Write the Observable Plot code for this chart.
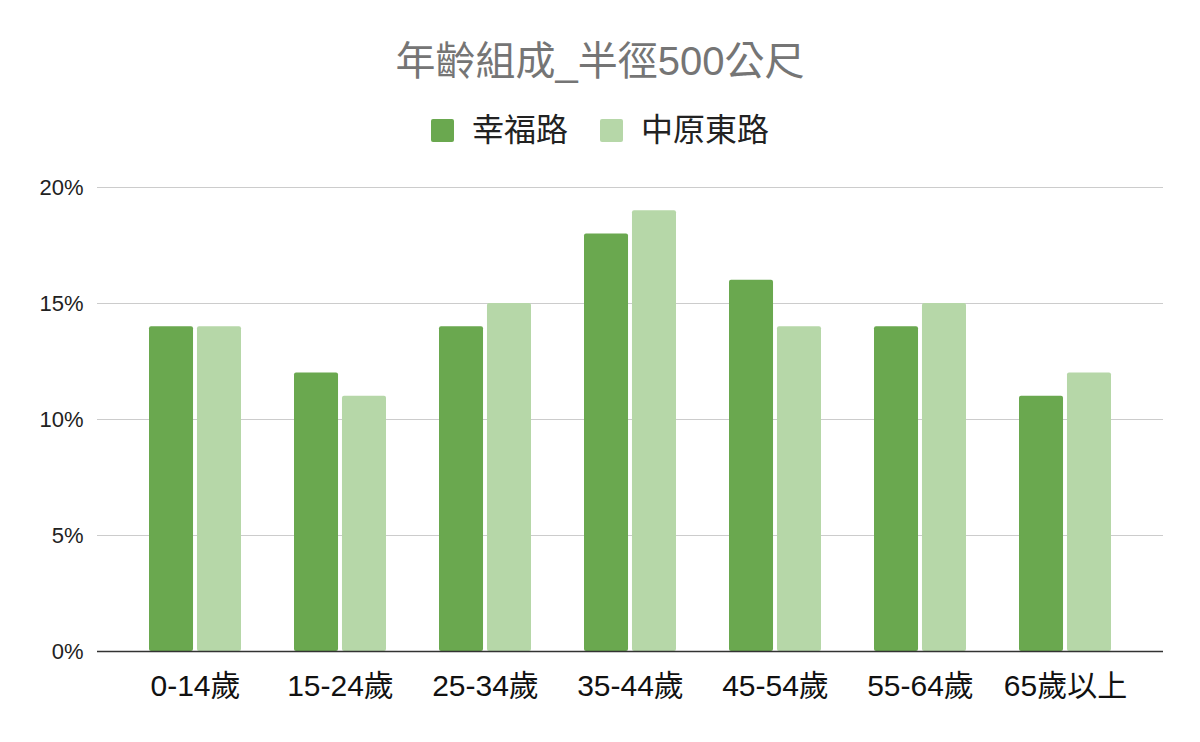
<!DOCTYPE html>
<html>
<head>
<meta charset="utf-8">
<script src="https://cdn.jsdelivr.net/npm/d3@7"></script>
<script src="https://cdn.jsdelivr.net/npm/@observablehq/plot@0.6"></script>
<style>
  body { margin: 0; background: #fff; font-family: "Liberation Sans", Arial, "Noto Sans CJK TC", sans-serif; }
  #wrap { width: 1200px; height: 742px; position: relative; overflow: hidden; }
  #title { position: absolute; top: 36px; left: 0; width: 1200px; text-align: center; font-size: 40px; color: #757575; line-height: 50px; }
  #legend { position: absolute; top: 110px; left: 0; width: 1200px; display: flex; justify-content: center; align-items: center; font-size: 32px; color: #222; line-height: 40px; }
  .item { display: flex; align-items: center; margin: 0 16px; }
  .sw { width: 23px; height: 23px; border-radius: 2px; margin-right: 18px; }
  #chart { position: absolute; top: 165px; left: 0; }
</style>
</head>
<body>
<div id="wrap">
  <div id="title"></div>
  <div id="legend"></div>
  <div id="chart"></div>
</div>
<script>
const title = "年齡組成_半徑500公尺";
const categories = ["0-14歲", "15-24歲", "25-34歲", "35-44歲", "45-54歲", "55-64歲", "65歲以上"];
const seriesNames = ["幸福路", "中原東路"];
const seriesColors = ["#6aa84f", "#b6d7a8"];
const xingfu = [14, 12, 14, 18, 16, 14, 11];
const zhongyuan = [14, 11, 15, 19, 14, 15, 12];
const yTicks = [0, 5, 10, 15, 20];

document.getElementById("title").textContent = title;
const legend = document.getElementById("legend");
seriesNames.forEach((n, i) => {
  const it = document.createElement("div");
  it.className = "item";
  it.innerHTML = `<div class="sw" style="background:${seriesColors[i]}"></div><span>${n}</span>`;
  legend.appendChild(it);
});

const d1 = categories.map((c, i) => ({cat: c, v: xingfu[i]}));
const d2 = categories.map((c, i) => ({cat: c, v: zhongyuan[i]}));

const marginLeft = 97, marginRight = 37, width = 1200;
const step = (width - marginLeft - marginRight) / (7 - 0.366 + 2 * 0.358);
const bw = step * (1 - 0.366);
const half = bw / 2 + 2;

const chart = Plot.plot({
  width, height: 577,
  marginTop: 22, marginBottom: 91, marginLeft, marginRight,
  style: {fontFamily: '"Liberation Sans", Arial, "Noto Sans CJK TC", sans-serif', background: "white"},
  x: {domain: categories, paddingInner: 0.366, paddingOuter: 0.358, label: null},
  y: {domain: [0, 20], label: null},
  marks: [
    Plot.ruleY(yTicks.filter(d => d > 0), {stroke: "#cccccc", strokeWidth: 1.2}),
    Plot.barY(d1, {x: "cat", y: "v", fill: seriesColors[0], insetRight: half, rx: 2}),
    Plot.barY(d2, {x: "cat", y: "v", fill: seriesColors[1], insetLeft: half, rx: 2}),
    Plot.ruleY([0], {stroke: "#333333", strokeWidth: 1.6}),
    Plot.axisY({ticks: yTicks, tickFormat: d => d + "%", tickSize: 0, tickPadding: 14, fontSize: 22, fill: "#222", label: null}),
    Plot.axisX({tickSize: 0, tickPadding: 23, fontSize: 30, fill: "#111", label: null})
  ]
});
document.getElementById("chart").appendChild(chart);
</script>
</body>
</html>
